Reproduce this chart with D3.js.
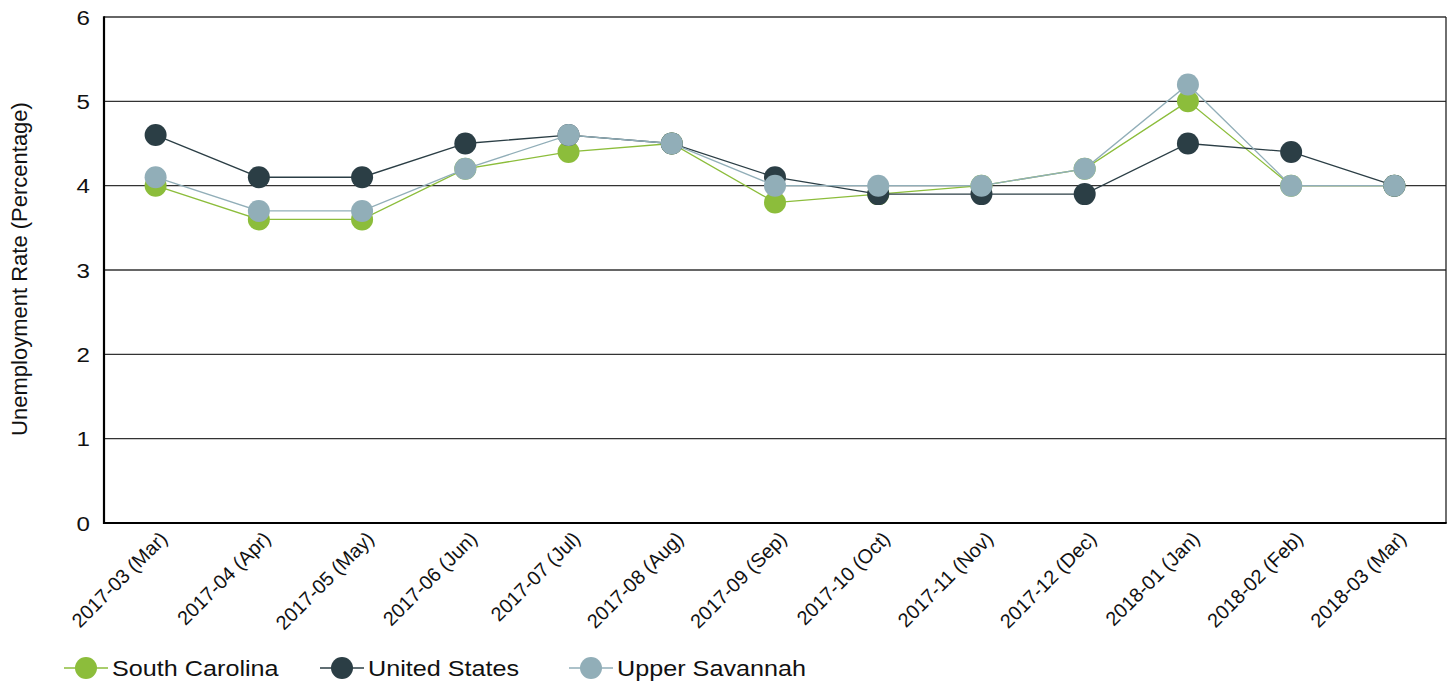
<!DOCTYPE html>
<html><head><meta charset="utf-8">
<script src="https://cdn.jsdelivr.net/npm/d3@7"></script>
<style>body{margin:0;background:#fff;}svg{font-family:"Liberation Sans",Arial,sans-serif;}</style>
</head><body>
<svg id="c" width="1454" height="686"></svg>
<script>
const categories = ["2017-03 (Mar)","2017-04 (Apr)","2017-05 (May)","2017-06 (Jun)","2017-07 (Jul)","2017-08 (Aug)","2017-09 (Sep)","2017-10 (Oct)","2017-11 (Nov)","2017-12 (Dec)","2018-01 (Jan)","2018-02 (Feb)","2018-03 (Mar)"];
const southCarolina = [4.0,3.6,3.6,4.2,4.4,4.5,3.8,3.9,4.0,4.2,5.0,4.0,4.0];
const unitedStates  = [4.6,4.1,4.1,4.5,4.6,4.5,4.1,3.9,3.9,3.9,4.5,4.4,4.0];
const upperSavannah = [4.1,3.7,3.7,4.2,4.6,4.5,4.0,4.0,4.0,4.2,5.2,4.0,4.0];
const yTicks = [0,1,2,3,4,5,6];
const seriesNames = ["South Carolina","United States","Upper Savannah"];
const seriesColors = ["#8cbd3b","#2b3e45","#91aeb8"];

const series = [southCarolina, unitedStates, upperSavannah].map((v,i)=>({name:seriesNames[i], color:seriesColors[i], values:v}));

const svg = d3.select("#c");
const m = {left:104, right:1446, top:17, bottom:523};
const x = d3.scaleBand().domain(categories).range([m.left, m.right]);
const y = d3.scaleLinear().domain([0,6]).range([m.bottom, m.top]);
const cx = d => x(d) + x.bandwidth()/2;

// gridlines
svg.append("g").selectAll("line").data(yTicks.filter(t=>t>0)).join("line")
  .attr("x1", m.left).attr("x2", m.right)
  .attr("y1", d=>y(d)).attr("y2", d=>y(d))
  .attr("stroke","#333").attr("stroke-width",1.3);
// right frame
svg.append("line").attr("x1",m.right).attr("x2",m.right).attr("y1",m.top).attr("y2",m.bottom).attr("stroke","#222").attr("stroke-width",1.3);
// left & bottom axes
svg.append("line").attr("x1",m.left).attr("x2",m.left).attr("y1",m.top-0.7).attr("y2",m.bottom+1).attr("stroke","#000").attr("stroke-width",2.2);
svg.append("line").attr("x1",m.left-1).attr("x2",m.right+0.7).attr("y1",m.bottom).attr("y2",m.bottom).attr("stroke","#000").attr("stroke-width",2.2);

// y tick labels
svg.append("g").selectAll("text").data(yTicks).join("text")
  .attr("transform", d=>`translate(90,${y(d)}) scale(1.15,1)`).attr("dy","0.36em")
  .attr("text-anchor","end").attr("font-size",21).attr("fill","#111")
  .text(d=>d);

// y title
svg.append("text").attr("transform","translate(27,269) rotate(-90)")
  .attr("text-anchor","middle").attr("font-size",22).attr("fill","#111")
  .text("Unemployment Rate (Percentage)");

// x labels
svg.append("g").selectAll("text").data(categories).join("text")
  .attr("transform", d=>`translate(${cx(d)+13},${m.bottom+17}) rotate(-45)`)
  .attr("text-anchor","end").attr("font-size",19.8).attr("fill","#111")
  .text(d=>d);

// series
const line = d3.line().x((d,i)=>cx(categories[i])).y(d=>y(d));
series.forEach(s=>{
  const g = svg.append("g");
  g.append("path").attr("d", line(s.values)).attr("fill","none").attr("stroke",s.color).attr("stroke-width",1.3);
  g.selectAll("circle").data(s.values).join("circle")
    .attr("cx",(d,i)=>cx(categories[i])).attr("cy",d=>y(d)).attr("r",11)
    .attr("fill",s.color);
});

// legend
const legX = [86, 342, 591];
const lg = svg.append("g").selectAll("g").data(series).join("g")
  .attr("transform",(d,i)=>`translate(${legX[i]},668)`);
lg.append("line").attr("x1",-22).attr("x2",22).attr("stroke",d=>d.color).attr("stroke-width",1.3);
lg.append("circle").attr("r",11).attr("fill",d=>d.color);
lg.append("text").attr("transform","translate(26,0) scale(1.12,1)").attr("dy","0.36em").attr("font-size",22.5).attr("fill","#111").text(d=>d.name);
</script>
</body></html>
